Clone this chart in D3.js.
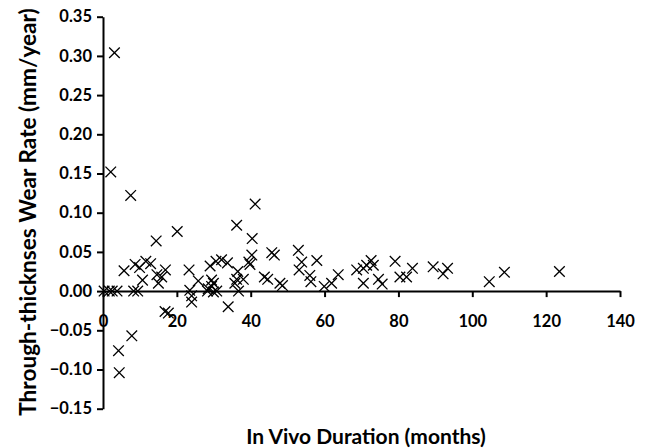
<!DOCTYPE html>
<html>
<head>
<meta charset="utf-8">
<script src="https://cdn.jsdelivr.net/npm/d3@7"></script>
<style>
html,body{margin:0;padding:0;background:#fff;}
svg text{font-family:Lato,"Open Sans",sans-serif;font-weight:bold;fill:#000;}
</style>
</head>
<body>
<svg id="chart" width="646" height="448"></svg>
<script>
const months = [0.3,1.7,2.5,3.8,3.1,2.1,7.5,4.2,4.4,7.8,5.7,8.7,9.9,11.6,12.9,10.7,14.4,14.6,15.0,15.9,16.9,16.8,17.7,8.3,9.4,20.1,
  23.3,23.5,24.0,24.0,25.8,28.3,28.5,29.4,29.9,29.4,29.9,30.8,29.0,30.6,32.1,33.7,33.9,36.2,36.5,36.2,35.7,38.0,36.7,
  39.5,39.8,40.3,40.4,41.2,43.7,44.6,45.7,46.4,47.9,48.6,52.9,53.8,53.1,57.9,56.0,56.3,59.9,61.9,63.7,
  68.7,70.5,71.4,72.6,73.2,70.5,74.6,75.6,79.1,80.4,82.2,83.8,89.4,92.1,93.3,104.6,108.7,123.6];
const wearRate = [0.000,0.000,0.000,0.000,0.304,0.152,0.122,-0.076,-0.104,-0.057,0.026,0.034,0.030,0.038,0.035,0.014,0.064,0.021,0.010,0.018,0.027,-0.026,-0.028,0.000,0.000,0.076,
  0.027,0.001,-0.006,-0.014,0.013,0.000,0.003,0.006,0.010,0.014,-0.001,0.000,0.032,0.038,0.040,0.036,-0.020,0.084,0.025,0.015,0.010,0.015,0.000,
  0.037,0.034,0.046,0.067,0.111,0.018,0.015,0.049,0.046,0.010,0.007,0.052,0.037,0.027,0.039,0.020,0.012,0.006,0.010,0.021,
  0.027,0.029,0.033,0.039,0.033,0.010,0.015,0.009,0.038,0.018,0.018,0.029,0.031,0.022,0.029,0.012,0.024,0.025];
const xTicks = [0,20,40,60,80,100,120,140];
const yTicks = [-0.15,-0.10,-0.05,0.00,0.05,0.10,0.15,0.20,0.25,0.30,0.35];
const xTitle = "In Vivo Duration (months)";
const yTitle = "Through-thicknses Wear Rate (mm/year)";

const svg = d3.select("#chart");
const x = d3.scaleLinear().domain([0,140]).range([103,620]);
const y = d3.scaleLinear().domain([-0.15,0.35]).range([408.7,16.7]);

// y axis
const yAxis = svg.append("g").attr("transform",`translate(${x(0)},0)`)
  .call(d3.axisLeft(y).tickValues(yTicks).tickFormat(d3.format(".2f")).tickSize(6).tickPadding(5).tickSizeOuter(0));
yAxis.select(".domain").attr("stroke","#000").attr("stroke-width",2);
yAxis.selectAll(".tick line").attr("stroke","#000").attr("stroke-width",2);
yAxis.selectAll(".tick text").attr("font-size","16.5px").style("font-family","Lato,sans-serif").style("font-weight","bold");

// x axis at y=0
const xAxis = svg.append("g").attr("transform",`translate(0,${y(0)})`)
  .call(d3.axisBottom(x).tickValues(xTicks).tickFormat(d3.format("d")).tickSize(6).tickPadding(18).tickSizeOuter(0));
xAxis.select(".domain").attr("stroke","#000").attr("stroke-width",2);
xAxis.selectAll(".tick line").attr("stroke","#000").attr("stroke-width",2);
xAxis.selectAll(".tick text").attr("font-size","16.5px").style("font-family","Lato,sans-serif").style("font-weight","bold");

// markers
const cross = d3.symbol().type(d3.symbolX).size(75);
svg.append("g").selectAll("path").data(months.map((m,i)=>[m,wearRate[i]])).join("path")
  .attr("d",cross)
  .attr("transform",d=>`translate(${x(d[0])},${y(d[1])})`)
  .attr("fill","none").attr("stroke","#000").attr("stroke-width",1.3);

// titles
svg.append("text").attr("x",366).attr("y",444).attr("text-anchor","middle")
  .attr("font-size","21px").text(xTitle);
svg.append("text").attr("transform","translate(36,212) rotate(-90)").attr("text-anchor","middle")
  .attr("font-size","22.6px").text(yTitle);
</script>
</body>
</html>
